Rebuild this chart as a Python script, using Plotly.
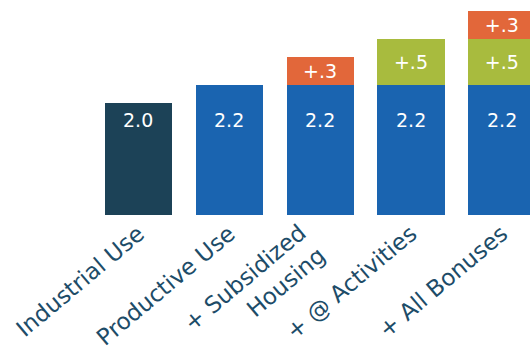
import plotly.graph_objects as go

categories = ["Industrial Use", "Productive Use", "+ Subsidized<br>Housing",
              "+ @ Activities", "+ All Bonuses"]
base_values = [2.0, 2.2, 2.2, 2.2, 2.2]
green_values = [None, None, None, 0.5, 0.5]
orange_values = [None, None, 0.3, None, 0.3]
base_colors = ["#1c4257", "#1a64b0", "#1a64b0", "#1a64b0", "#1a64b0"]

x = list(range(len(categories)))
LABEL_FONT = dict(family="DejaVu Sans", size=23, color="#1d4c68")
ANGLE = -40


def seg_text(vals):
    return [None if v is None else "+" + f"{v:.1f}".lstrip("0") for v in vals]


fig = go.Figure()
fig.add_trace(go.Bar(x=x, y=base_values, marker=dict(color=base_colors, line=dict(width=0)),
                     hoverinfo="skip"))
fig.add_trace(go.Bar(x=x, y=green_values, marker=dict(color="#a8bb3e", line=dict(width=0)),
                     text=seg_text(green_values),
                     textposition="inside", insidetextanchor="middle",
                     textfont=dict(color="white", size=19, family="DejaVu Sans")))
fig.add_trace(go.Bar(x=x, y=orange_values, marker=dict(color="#e2673a", line=dict(width=0)),
                     text=seg_text(orange_values),
                     textposition="inside", insidetextanchor="middle",
                     textfont=dict(color="white", size=19, family="DejaVu Sans")))

for xi, v in zip(x, base_values):
    fig.add_annotation(x=xi, y=0.442, xref="x", yref="paper", text=f"{v:.1f}",
                       showarrow=False, yanchor="middle",
                       font=dict(color="white", size=19, family="DejaVu Sans"))

# multi-line category labels are drawn as rotated annotations so the block
# is centred on its tick like in the original; single-line ones are tick labels
ticktext = []
for xi, c in zip(x, categories):
    if "<br>" in c:
        ticktext.append("")
        fig.add_annotation(x=xi, y=0, xref="x", yref="paper", text=c, showarrow=False,
                           textangle=ANGLE, xanchor="right", yanchor="top", align="right",
                           xshift=13, yshift=-1, font=LABEL_FONT)
    else:
        ticktext.append(c)

fig.update_layout(
    width=530, height=355,
    margin=dict(l=93, r=0, t=0, b=140),
    barmode="stack", bargap=0.26,
    showlegend=False,
    plot_bgcolor="white", paper_bgcolor="white",
    uniformtext=dict(minsize=19, mode="show"),
    xaxis=dict(range=[-0.5, 4.31], tickmode="array", tickvals=x, ticktext=ticktext,
               tickangle=ANGLE, showgrid=False, zeroline=False, showline=False, ticks="",
               automargin=False, tickfont=LABEL_FONT),
    yaxis=dict(range=[0.787, 3.124], visible=False, showgrid=False, zeroline=False,
               automargin=False),
)

fig.write_html("out.html")
